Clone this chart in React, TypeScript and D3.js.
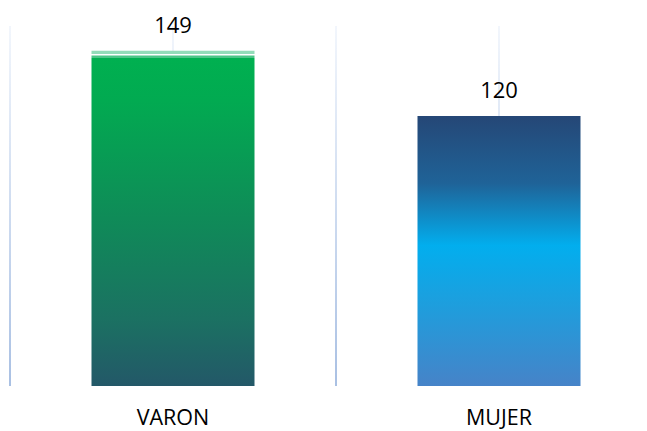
import React from "react";
import * as d3 from "d3";

const categories = ["VARON", "MUJER"];
const values = [149, 120];
const axisMax = 160;

const W = 647;
const H = 431;

export default function App() {
  const x = d3.scaleBand<string>().domain(categories).range([10, 662]).paddingInner(0).paddingOuter(0);
  const y = d3.scaleLinear().domain([0, axisMax]).range([386, 26]);
  const bw = x.bandwidth() * 0.5;
  const gridXs = [...categories.map((c) => x(c)!), ...categories.map((c) => x(c)! + x.bandwidth() / 2)];
  const fills = ["url(#gVaron)", "url(#gMujer)"];
  const font = "'Open Sans', 'Liberation Sans', sans-serif";
  return (
    <svg width={W} height={H} style={{ position: "absolute", left: 0, top: 0, background: "#fff" }}>
      <defs>
        <linearGradient id="gGrid" x1="0" y1={y(axisMax)} x2="0" y2={y(0)} gradientUnits="userSpaceOnUse">
          <stop offset="0" stopColor="#f2f6fc" />
          <stop offset="0.6" stopColor="#c8d7ee" />
          <stop offset="1" stopColor="#a9c0e3" />
        </linearGradient>
        <linearGradient id="gVaron" x1="0" y1="0" x2="0" y2="1">
          <stop offset="0" stopColor="#93dcb9" />
          <stop offset="0.009" stopColor="#93dcb9" />
          <stop offset="0.009" stopColor="#ffffff" />
          <stop offset="0.013" stopColor="#ffffff" />
          <stop offset="0.013" stopColor="#a6e2c3" />
          <stop offset="0.017" stopColor="#a6e2c3" />
          <stop offset="0.017" stopColor="#4cc487" />
          <stop offset="0.023" stopColor="#4cc487" />
          <stop offset="0.023" stopColor="#00b050" />
          <stop offset="0.15" stopColor="#02aa51" />
          <stop offset="0.5" stopColor="#0f8b58" />
          <stop offset="0.8" stopColor="#1b7162" />
          <stop offset="1" stopColor="#235868" />
        </linearGradient>
        <linearGradient id="gMujer" x1="0" y1="0" x2="0" y2="1">
          <stop offset="0" stopColor="#254776" />
          <stop offset="0.25" stopColor="#1f6398" />
          <stop offset="0.48" stopColor="#02aeee" />
          <stop offset="0.7" stopColor="#1e9edd" />
          <stop offset="1" stopColor="#4683c8" />
        </linearGradient>
      </defs>
      {gridXs.map((gx, i) => (
        <rect key={"g" + i} x={gx - 1} y={y(axisMax)} width={2} height={y(0) - y(axisMax)} fill="url(#gGrid)" />
      ))}
      {categories.map((c, i) => (
        <rect
          key={c}
          x={x(c)! + x.bandwidth() / 2 - bw / 2}
          y={y(values[i])}
          width={bw}
          height={y(0) - y(values[i])}
          fill={fills[i]}
        />
      ))}
      {categories.map((c, i) => (
        <text
          key={"v" + c}
          x={x(c)! + x.bandwidth() / 2}
          y={y(values[i]) - 18}
          textAnchor="middle"
          fontFamily={font}
          fontSize={22}
          fill="#000"
        >
          {values[i]}
        </text>
      ))}
      {categories.map((c) => (
        <text
          key={"c" + c}
          x={x(c)! + x.bandwidth() / 2}
          y={425}
          textAnchor="middle"
          fontFamily={font}
          fontSize={21.5}
          fill="#000"
        >
          {c}
        </text>
      ))}
    </svg>
  );
}
